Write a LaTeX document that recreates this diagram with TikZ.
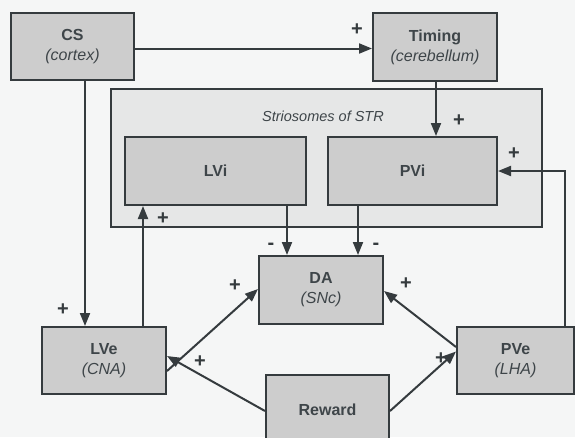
\documentclass[tikz,border=0pt]{standalone}
\usepackage{fontspec}
\setmainfont{Liberation Sans}
\usetikzlibrary{arrows.meta}

\definecolor{linha}{HTML}{353B3E}
\definecolor{caixa}{HTML}{CDCDCD}
\definecolor{fundo}{HTML}{E6E7E7}
\definecolor{papel}{HTML}{F5F6F6}
\definecolor{texto}{HTML}{3E4549}

\tikzset{
  bloco/.style={draw=linha, line width=2pt, fill=caixa, text=texto, align=center,
    inner sep=0pt, font=\fontsize{16}{20}\selectfont},
  seta/.style={draw=linha, line width=2pt, -{Triangle[length=13pt,width=10pt]}},
  sinal/.style={text=linha, inner sep=0pt, font=\bfseries\fontsize{20}{20}\selectfont},
}

\begin{document}
\begin{tikzpicture}[x=1pt,y=-1pt] %uma unidade = um pixel da figura, eixo y para baixo

%Fundo da figura: fixa o tamanho da pagina
\fill[papel] (0,0) rectangle (575,437);
\useasboundingbox (0,0) rectangle (575,437);

%Caixa externa dos estriossomos (STR), desenhada antes das caixas internas
%---------------------------------------------------
\node[bloco, fill=fundo, minimum width=431pt, minimum height=138pt] (str) at (326.5,158) {};
\node[text=texto, font=\itshape\fontsize{14.5}{16}\selectfont] (strlabel) at (323,116) {Striosomes of STR};
%---------------------------------------------------

%Caixas do circuito (centro e tamanho em pixels)
%---------------------------------------------------
\node[bloco, minimum width=123pt, minimum height=67pt] (cs) at (72.5,46.5) {\textbf{CS}\\\textit{(cortex)}};
\node[bloco, minimum width=124pt, minimum height=68pt] (timing) at (435,47) {\textbf{Timing}\\\textit{(cerebellum)}};
\node[bloco, minimum width=181pt, minimum height=68pt] (lvi) at (215.5,171) {\textbf{LVi}};
\node[bloco, minimum width=169pt, minimum height=68pt] (pvi) at (412.5,171) {\textbf{PVi}};
\node[bloco, minimum width=124pt, minimum height=68pt] (da) at (321,290) {\textbf{DA}\\\textit{(SNc)}};
\node[bloco, minimum width=124pt, minimum height=67pt] (lve) at (104,360.5) {\textbf{LVe}\\\textit{(CNA)}};
\node[bloco, minimum width=117pt, minimum height=67pt] (pve) at (515.5,360.5) {\textbf{PVe}\\\textit{(LHA)}};
\node[bloco, minimum width=123pt, minimum height=70pt] (reward) at (327.5,410) {\textbf{Reward}};
%---------------------------------------------------

%Ligacoes verticais e horizontais
%---------------------------------------------------
\draw[seta] ([yshift=-2pt]cs.east) -- ([yshift=-2pt]cs.east -| timing.west);
\draw[seta] ([xshift=1pt]timing.south) -- ([xshift=1pt]timing.south |- pvi.north);
\draw[seta] ([xshift=12.5pt]cs.south) -- ([xshift=12.5pt]cs.south |- lve.north);
\draw[seta] ([xshift=39pt]lve.north) -- ([xshift=39pt]lve.north |- lvi.south);
\draw[seta] ([xshift=-34pt]da.north |- lvi.south) -- ([xshift=-34pt]da.north);
\draw[seta] ([xshift=37pt]da.north |- pvi.south) -- ([xshift=37pt]da.north);
\draw[seta] ([xshift=49.5pt]pve.north) |- (pvi.east);
%---------------------------------------------------

%Ligacoes diagonais
%---------------------------------------------------
\draw[seta] ([yshift=-10.5pt]lve.east) -- ([yshift=1pt]da.west);
\draw[seta] ([yshift=13.5pt]pve.west) -- ([yshift=-1pt]da.east);
\draw[seta] ([yshift=-1pt]reward.west) -- ([yshift=4.5pt]lve.east);
\draw[seta] ([yshift=-1pt]reward.east) -- ([yshift=9pt]pve.west);
%---------------------------------------------------

%Sinais das ligacoes
%---------------------------------------------------
\node[sinal] (s1) at (357,30) {+};
\node[sinal] (s2) at (459,121) {+};
\node[sinal] (s3) at (514,154) {+};
\node[sinal] (s4) at (63,310) {+};
\node[sinal] (s5) at (163,219) {+};
\node[sinal] (s6) at (271,246) {-};
\node[sinal] (s7) at (376,246) {-};
\node[sinal] (s8) at (235,286) {+};
\node[sinal] (s9) at (200,362) {+};
\node[sinal] (s10) at (406,284) {+};
\node[sinal] (s11) at (441,359) {+};
%---------------------------------------------------

\end{tikzpicture}
\end{document}
